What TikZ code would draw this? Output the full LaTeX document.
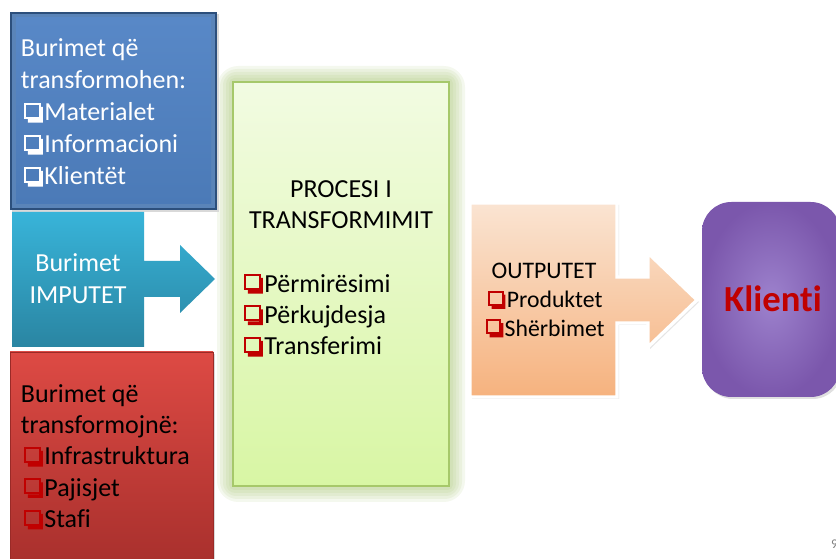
\documentclass[tikz,border=0pt]{standalone}
\usepackage{fontspec}
\setmainfont[Ligatures=NoCommon]{Carlito}
\definecolor{bluedark}{HTML}{2C4F7C}
\definecolor{bluebevel}{HTML}{6E9BD2}
\definecolor{bluetop}{HTML}{5888C7}
\definecolor{bluebot}{HTML}{4B7AB7}
\definecolor{cyantop}{HTML}{38B4D9}
\definecolor{cyanbot}{HTML}{2A85A2}
\definecolor{redtop}{HTML}{DD4A44}
\definecolor{redbot}{HTML}{A72F2C}
\definecolor{rededge}{HTML}{9A2A27}
\definecolor{greentop}{HTML}{F2FBE2}
\definecolor{greenbot}{HTML}{D8F6A4}
\definecolor{greenedge}{HTML}{A6C86A}
\definecolor{greenglow}{HTML}{9BBB59}
\definecolor{orangetop}{HTML}{FAE4D2}
\definecolor{orangebot}{HTML}{F6B27E}
\definecolor{purplein}{HTML}{9D82CD}
\definecolor{purpleout}{HTML}{7B57AC}
\definecolor{klred}{HTML}{C00000}
\definecolor{chkred}{HTML}{C00000}
\newcommand\cbx[1]{\tikz[x=1em,y=1em,baseline=0pt]{%
  \path (0,0) rectangle (0.9,0.66);
  \fill[#1] (0.70,0.54)--(0.84,0.54)--(0.84,-0.06)--(0.26,-0.06)--(0.26,0.08)--(0.70,0.08)--cycle;
  \draw[#1,line width=0.08em] (0.14,0.12) rectangle (0.72,0.66);}}
\tikzset{
  txt/.style={inner sep=0pt, outer sep=0pt},
  big/.style={font=\fontsize{19.5}{24}\selectfont},
  bigr/.style={font=\fontsize{19.5}{23.6}\selectfont},
  mid/.style={font=\fontsize{17.8}{21.4}\selectfont},
}
\begin{document}
\begin{tikzpicture}[x=0.75pt,y=-0.75pt]
\useasboundingbox (0,0) rectangle (836,559);
\clip (0,0) rectangle (836,559);
\fill[white] (0,0) rectangle (836,559);

% green glow
\foreach \g in {16,13,10,7,4}
  \fill[greenglow,opacity=0.10,rounded corners=\g] ({233-\g},{82-\g}) rectangle ({449+\g},{486+\g});
\shade[top color=greentop,bottom color=greenbot] (233,82) rectangle (449,486);
\draw[greenedge,line width=0.8pt] (233,82) rectangle (449,486);

% blue box
\fill[black!15] (12,14) rectangle (219,212);
\fill[bluedark] (10,12) rectangle (217,210);
\fill[bluebevel!70!bluedark] (12,14) rectangle (215,208);
\shade[top color=bluetop,bottom color=bluebot] (16,18) rectangle (211,204);

% cyan arrow
\shade[top color=cyantop,bottom color=cyanbot]
  (12,212) -- (144,212) -- (144,261) -- (180,261) -- (180,245) -- (215,279)
  -- (180,313) -- (180,297) -- (144,297) -- (144,347) -- (12,347) -- cycle;

% red box
\fill[black!15] (12,354) rectangle (215,570);
\shade[top color=redtop,bottom color=redbot] (10,352) rectangle (213,570);
\draw[rededge,line width=0.6pt] (10,352) rectangle (213,570);

% orange arrow
\fill[black!10] (472,205) -- (619,205) -- (619,279) -- (650,279) -- (650,255) -- (699,302)
  -- (650,349) -- (650,325) -- (619,325) -- (619,399) -- (472,399) -- cycle;
\shade[top color=orangetop,bottom color=orangebot,draw=white,line width=2.5pt,line join=miter]
  (470,203) -- (617,203) -- (617,277) -- (648,277) -- (648,253) -- (697,300)
  -- (648,347) -- (648,323) -- (617,323) -- (617,397) -- (470,397) -- cycle;

% purple box
\fill[black!12,rounded corners=22] (704,204) rectangle (842,399);
\shade[rounded corners=22,inner color=purplein,outer color=purpleout] (702,202) rectangle (840,397);

% texts
\node[txt,big,text=white,align=left,anchor=north west] (blueTxt) at (21,34.6)
  {\strut Burimet që\\transformohen:\\\cbx{white}Materialet\\\cbx{white}Informacioni\\\cbx{white}Klientët};
\node[txt,big,text=white,align=center,anchor=north] (cyanTxt) at (78,249.6)
  {\strut Burimet\\IMPUTET};
\node[txt,bigr,text=black,align=left,anchor=north west] (redTxt) at (21,380)
  {\strut Burimet që\\transformojnë:\\\cbx{chkred}Infrastruktura\\\cbx{chkred}Pajisjet\\\cbx{chkred}Stafi};
\node[txt,font=\fontsize{19.5}{23.3}\selectfont,text=black,align=center,anchor=north] (procTitle) at (341,175.3)
  {\strut PROCESI I\\TRANSFORMIMIT};
\node[txt,bigr,text=black,align=left,anchor=north west] (procList) at (241,270)
  {\strut\cbx{chkred}Përmirësimi\\\cbx{chkred}Përkujdesja\\\cbx{chkred}Transferimi};
\node[txt,mid,text=black,align=center,anchor=north] (outTxt) at (544,259)
  {\strut OUTPUTET\\\cbx{chkred}Produktet\\\cbx{chkred}Shërbimet};
\node[txt,font=\fontsize{27.5}{32}\selectfont\bfseries,text=klred,anchor=base] (klienti) at (773,312) {Klienti};
\node[txt,font=\fontsize{10}{12}\selectfont,text=gray,anchor=base west] (pgnum) at (831,549) {9};
\end{tikzpicture}
\end{document}
